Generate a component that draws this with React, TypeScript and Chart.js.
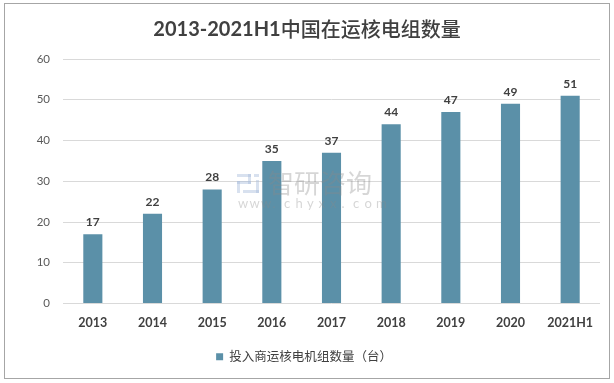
import React, { useEffect, useRef } from "react";
import { Chart, registerables } from "chart.js";

Chart.register(...registerables);

const categories = ["2013", "2014", "2015", "2016", "2017", "2018", "2019", "2020", "2021H1"];
const units = [17, 22, 28, 35, 37, 44, 47, 49, 51];
const seriesName = "投入商运核电机组数量（台）";
const titleLatin = "2013-2021H1";
const titleCJK = "中国在运核电组数量";
const yTicks = [0, 10, 20, 30, 40, 50, 60];

const FONT = "Lato, 'Noto Sans CJK SC', sans-serif";
const CJK = "'Noto Sans CJK SC', sans-serif";
const BAR = "#5B90A8";

const framePlugin = {
  id: "frame",
  beforeDraw(chart: any) {
    const { ctx } = chart;
    ctx.save();
    ctx.fillStyle = "#ffffff";
    ctx.fillRect(0, 0, chart.width, chart.height);
    ctx.strokeStyle = "#a6a6a6";
    ctx.lineWidth = 1;
    ctx.strokeRect(4.5, 3.5, 605, 375);
    ctx.restore();
  },
  afterDraw(chart: any) {
    const { ctx } = chart;
    ctx.save();
    ctx.fillStyle = "#404040";
    ctx.textBaseline = "middle";
    ctx.textAlign = "left";
    ctx.font = `bold 20px ${FONT}`;
    const w1 = ctx.measureText(titleLatin).width;
    ctx.font = `500 20px ${CJK}`;
    const w2 = ctx.measureText(titleCJK).width;
    const x0 = 307 - (w1 + w2) / 2;
    ctx.font = `bold 20px ${FONT}`;
    ctx.fillText(titleLatin, x0, 30);
    ctx.font = `500 20px ${CJK}`;
    ctx.fillText(titleCJK, x0 + w1, 29);
    ctx.restore();
  },
};

const labelPlugin = {
  id: "valueLabels",
  afterDatasetsDraw(chart: any) {
    const { ctx } = chart;
    const meta = chart.getDatasetMeta(0);
    ctx.save();
    ctx.font = `bold 12px ${FONT}`;
    ctx.fillStyle = "#404040";
    ctx.textAlign = "center";
    ctx.textBaseline = "bottom";
    meta.data.forEach((bar: any, i: number) => {
      ctx.fillText(String(units[i]), bar.x, bar.y - 6);
    });
    ctx.restore();
  },
};

const watermarkPlugin = {
  id: "watermark",
  afterDatasetsDraw(chart: any) {
    const { ctx } = chart;
    ctx.save();
    ctx.globalAlpha = 0.35;
    ctx.fillStyle = "#8a8a8a";
    ctx.textBaseline = "middle";
    ctx.textAlign = "left";
    ctx.font = `26px ${CJK}`;
    ctx.fillText("智研咨询", 268, 183);
    ctx.font = `13px ${FONT}`;
    const s = "www.chyxx.com";
    let x = 238;
    for (const ch of s) {
      ctx.fillText(ch, x, 204);
      x += 11.5;
    }
    ctx.globalAlpha = 0.45;
    ctx.fillStyle = "#a9bddc";
    // simple logo blocks
    ctx.fillRect(237, 174, 14, 3);
    ctx.fillRect(248, 174, 3, 10);
    ctx.fillRect(237, 181, 14, 3);
    ctx.fillRect(237, 181, 3, 12);
    ctx.fillRect(254, 174, 5, 3);
    ctx.fillRect(256, 180, 3, 13);
    ctx.fillRect(243, 190, 16, 3);
    ctx.restore();
  },
};

export default function App() {
  const ref = useRef<HTMLCanvasElement>(null);
  useEffect(() => {
    document.body.style.margin = "0";
    const chart = new Chart(ref.current!, {
      type: "bar",
      data: {
        labels: categories,
        datasets: [
          {
            label: seriesName,
            data: units,
            backgroundColor: BAR,
            borderWidth: 0,
            barPercentage: 0.32,
            categoryPercentage: 1,
          },
        ],
      },
      options: {
        responsive: false,
        animation: false,
        devicePixelRatio: 1,
        layout: { padding: { left: 8, right: 14, top: 59, bottom: 10 } },
        plugins: {
          title: { display: false },
          legend: {
            position: "bottom",
            labels: {
              boxWidth: 7,
              boxHeight: 7,
              color: "#404040",
              font: { family: FONT, size: 12.5 },
              padding: 10,
            },
          },
          tooltip: { enabled: false },
        },
        scales: {
          x: {
            grid: { display: false, drawTicks: false },
            border: { display: false },
            ticks: {
              color: "#404040",
              font: { family: FONT, size: 12.5, weight: "bold" },
              padding: 12,
            },
            afterFit(scale: any) {
              scale.height = 37;
            },
          },
          y: {
            min: 0,
            max: 60,
            grid: { color: "#d9d9d9", drawTicks: false },
            border: { display: false },
            afterBuildTicks(scale: any) {
              scale.ticks = yTicks.map((v) => ({ value: v }));
            },
            ticks: {
              color: "#595959",
              font: { family: FONT, size: 11.5 },
              padding: 13,
            },
            afterFit(scale: any) {
              scale.width = 55;
            },
          },
        },
      },
      plugins: [framePlugin, labelPlugin, watermarkPlugin],
    });
    return () => chart.destroy();
  }, []);
  return <canvas ref={ref} width={614} height={383} style={{ display: "block" }} />;
}
